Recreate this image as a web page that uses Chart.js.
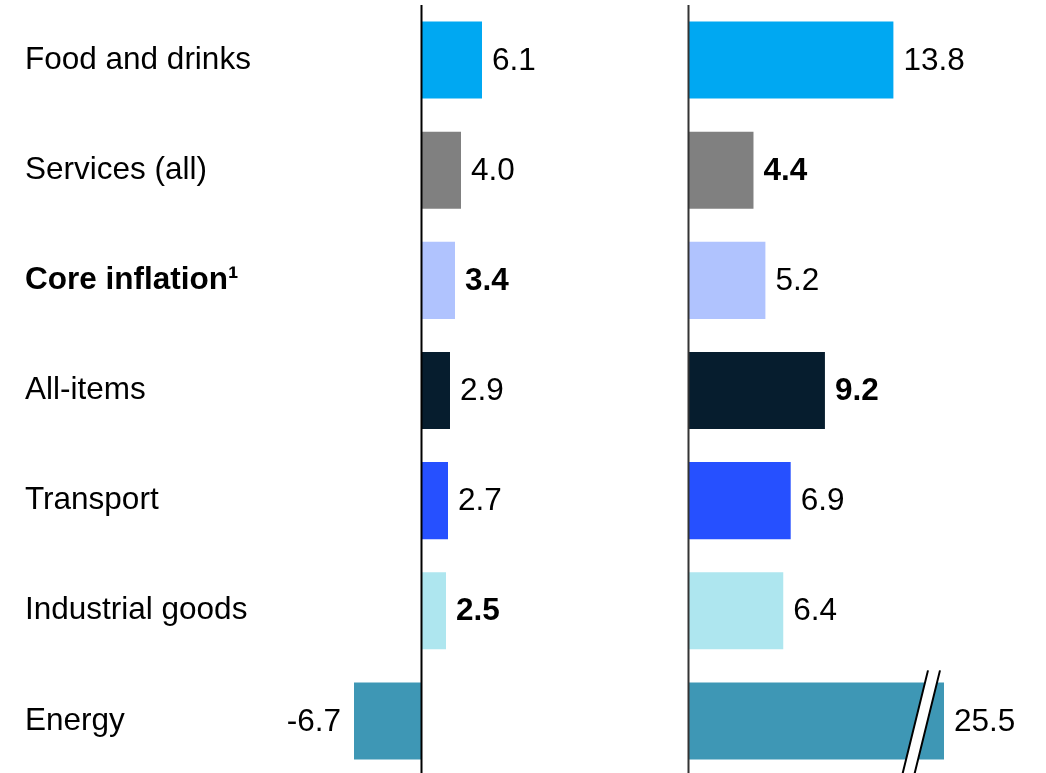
<!DOCTYPE html>
<html>
<head>
<meta charset="utf-8">
<script src="https://cdn.jsdelivr.net/npm/chart.js@4.4.0/dist/chart.umd.min.js"></script>
<style>
    html, body { margin: 0; padding: 0; background: #fff; }
    #wrap { position: relative; width: 1046px; height: 773px; overflow: hidden; }
    #leftBox { position: absolute; left: 0; top: 0; width: 640px; height: 776px; }
    #rightBox { position: absolute; left: 660px; top: 0; width: 386px; height: 776px; }
</style>
</head>
<body>
<div id="wrap">
    <div id="leftBox"><canvas id="leftChart"></canvas></div>
    <div id="rightBox"><canvas id="rightChart"></canvas></div>
</div>
<script>
// Kategoriyalar va qiymatlar
const categories = ['Food and drinks', 'Services (all)', 'Core inflation\u00B9', 'All-items', 'Transport', 'Industrial goods', 'Energy'];
const leftValues = [6.1, 4.0, 3.4, 2.9, 2.7, 2.5, -6.7];
const rightValues = [13.8, 4.4, 5.2, 9.2, 6.9, 6.4, 25.5];
const barColors = ['#00A8F2', '#808080', '#B0C3FE', '#061D2E', '#2650FF', '#AEE6EF', '#3E97B5'];

// Qalin yoziladigan belgilar
const boldCategory = [false, false, true, false, false, false, false];
const leftBold = [false, false, true, false, false, true, false];
const rightBold = [false, true, false, true, false, false, false];

// O'q chegaralari (o'ng tomonda Energy ustuni kesiladi)
const leftAxisMin = -8.1;
const leftAxisMax = 21.9;
const rightAxisMin = 0;
const rightAxisMax = 17.2;

const FONT = "'Liberation Sans', Arial, sans-serif";
const FONT_SIZE = 31.5;

// Qiymat yorliqlari va nol chizig'i
const labelPlugin = {
    id: 'valueLabels',
    afterDatasetsDraw(chart, args, opts) {
        const ctx = chart.ctx;
        const xScale = chart.scales.x;
        const area = chart.chartArea;
        const meta = chart.getDatasetMeta(0);
        const values = chart.data.datasets[0].data;

        // nol chizig'i
        const x0 = Math.round(xScale.getPixelForValue(0)) + 0.5;
        ctx.save();
        ctx.strokeStyle = opts.axisColor;
        ctx.lineWidth = opts.axisWidth;
        ctx.beginPath();
        ctx.moveTo(x0, 5);
        ctx.lineTo(x0, chart.height);
        ctx.stroke();

        ctx.fillStyle = '#000';
        ctx.textBaseline = 'middle';
        meta.data.forEach((bar, i) => {
            const v = values[i];
            ctx.font = (opts.bold[i] ? 'bold ' : '') + FONT_SIZE + 'px ' + FONT;
            let xEnd = bar.x;
            if (xEnd > area.right) xEnd = area.right;
            if (v >= 0) {
                ctx.textAlign = 'left';
                ctx.fillText(v.toFixed(1), xEnd + 10, bar.y + 1);
            } else {
                ctx.textAlign = 'right';
                ctx.fillText(v.toFixed(1), xEnd - 13, bar.y + 1);
            }
        });

        // kesilgan ustun uchun uzilish belgisi
        if (opts.breakMark) {
            meta.data.forEach((bar, i) => {
                if (values[i] <= xScale.max) return;
                const top = bar.y - bar.height / 2 - 12;
                const bot = chart.height;
                const xr = area.right - 16;
                const slant = 26;
                ctx.fillStyle = '#fff';
                ctx.beginPath();
                ctx.moveTo(xr, top);
                ctx.lineTo(xr + 12, top);
                ctx.lineTo(xr + 12 - slant, bot);
                ctx.lineTo(xr - slant, bot);
                ctx.closePath();
                ctx.fill();
                ctx.strokeStyle = '#000';
                ctx.lineWidth = 2;
                ctx.beginPath();
                ctx.moveTo(xr, top);
                ctx.lineTo(xr - slant, bot);
                ctx.moveTo(xr + 12, top);
                ctx.lineTo(xr + 12 - slant, bot);
                ctx.stroke();
            });
        }
        ctx.restore();
    }
};

function makeChart(id, values, opts) {
    const ctx = document.getElementById(id).getContext('2d');
    return new Chart(ctx, {
        type: 'bar',
        data: {
            labels: categories,
            datasets: [{
                data: values,
                backgroundColor: barColors,
                borderWidth: 0,
                categoryPercentage: 1.0,
                barPercentage: 0.7
            }]
        },
        options: {
            indexAxis: 'y',
            responsive: true,
            maintainAspectRatio: false,
            animation: false,
            layout: { padding: opts.padding },
            plugins: {
                legend: { display: false },
                tooltip: { enabled: false },
                valueLabels: {
                    bold: opts.bold,
                    axisColor: opts.axisColor,
                    axisWidth: opts.axisWidth,
                    breakMark: opts.breakMark
                }
            },
            scales: {
                x: {
                    display: false,
                    min: opts.min,
                    max: opts.max
                },
                y: {
                    display: opts.showLabels,
                    grid: { display: false },
                    border: { display: false },
                    afterFit: (s) => {
                        if (opts.showLabels) s.width = 315;
                        s.paddingTop = 0;
                        s.paddingBottom = 0;
                    },
                    ticks: {
                        crossAlign: 'far',
                        color: '#000',
                        padding: 0,
                        font: (c) => ({
                            family: FONT,
                            size: FONT_SIZE,
                            weight: boldCategory[c.index] ? 'bold' : 'normal'
                        })
                    }
                }
            }
        },
        plugins: [labelPlugin]
    });
}

makeChart('leftChart', leftValues, {
    padding: { left: 25, top: 5, right: 0, bottom: 0 },
    min: leftAxisMin,
    max: leftAxisMax,
    bold: leftBold,
    showLabels: true,
    axisColor: '#000',
    axisWidth: 2,
    breakMark: false
});

makeChart('rightChart', rightValues, {
    padding: { left: 28, top: 5, right: 102, bottom: 0 },
    min: rightAxisMin,
    max: rightAxisMax,
    bold: rightBold,
    showLabels: false,
    axisColor: '#333',
    axisWidth: 2,
    breakMark: true
});
</script>
</body>
</html>
